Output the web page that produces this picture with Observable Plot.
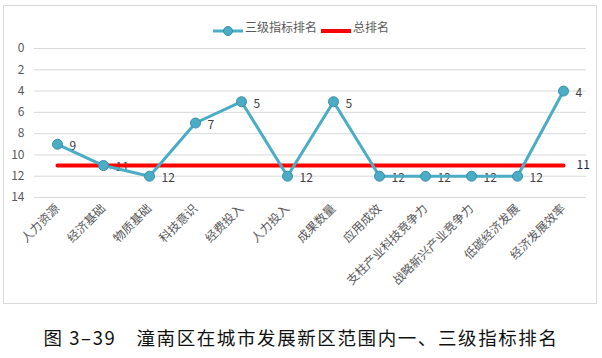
<!DOCTYPE html>
<html><head><meta charset="utf-8">
<script src="https://cdn.jsdelivr.net/npm/d3@7"></script>
<script src="https://cdn.jsdelivr.net/npm/@observablehq/plot@0.6"></script>
<style>
body{margin:0;background:#fff;font-family:"Noto Sans CJK SC","Noto Sans",sans-serif;}
#wrap{position:relative;width:602px;height:358px;}
#frame{position:absolute;left:3px;top:5px;width:594px;height:299px;border:1px solid #d9d9d9;box-sizing:border-box;}
#legend{position:absolute;top:18px;left:0;width:602px;display:flex;justify-content:center;align-items:center;font-size:12px;color:#595959;}
#legend .sw{display:inline-block;position:relative;width:30px;height:10px;margin-right:2px;}
#plot{position:absolute;left:0;top:0;}
#caption{position:absolute;top:324px;left:0;width:602px;text-align:center;font-size:18.5px;color:#111;letter-spacing:1.6px;}
</style></head>
<body>
<div id="wrap">
<div id="frame"></div>
<div id="plot"></div>
<div id="legend">
  <span class="sw"><svg width="30" height="10"><line x1="0" y1="5" x2="30" y2="5" stroke="#4BACC6" stroke-width="3"/><circle cx="15" cy="5" r="4.5" fill="#4BACC6" stroke="#3A8FAA" stroke-width="1"/></svg></span>
  <span style="margin-right:4px">三级指标排名</span>
  <span class="sw"><svg width="30" height="10"><line x1="0" y1="5" x2="30" y2="5" stroke="#FF0000" stroke-width="4"/></svg></span>
  <span>总排名</span>
</div>
<div id="caption">图 3–39　潼南区在城市发展新区范围内一、三级指标排名</div>
</div>
<script>
const categories = ["人力资源","经济基础","物质基础","科技意识","经费投入","人力投入","成果数量","应用成效","支柱产业科技竞争力","战略新兴产业竞争力","低碳经济发展","经济发展效率"];
const ranks = [9,11,12,7,5,12,5,12,12,12,12,4];
const overall = [11,11,11,11,11,11,11,11,11,11,11,11];
const yTicks = [0,2,4,6,8,10,12,14];

const rows = categories.map((c,i)=>({c, r:ranks[i], o:overall[i]}));
const last = rows[rows.length-1];

const chart = Plot.plot({
  width: 602,
  height: 310,
  marginTop: 48,
  marginBottom: 113,
  marginLeft: 34,
  marginRight: 16,
  style: {fontFamily: '"Noto Sans CJK SC","Noto Sans",sans-serif', fontSize: "12px", color: "#595959", background: "transparent"},
  x: {type: "band", domain: categories, padding: 0, label: null},
  y: {domain: [0,14], reverse: true, label: null},
  marks: [
    Plot.gridY(yTicks, {stroke: "#d9d9d9", strokeOpacity: 1, strokeWidth: 1}),
    Plot.axisY(yTicks, {tickSize: 0, tickPadding: 10, fontSize: 12, fill: "#595959", label: null}),
    Plot.axisX({tickSize: 0, tickPadding: 9, tickRotate: -45, fontSize: 12, fill: "#595959", label: null}),
    Plot.text(rows, {x: "c", y: "r", text: d=>String(d.r), dx: 12, dy: 2, textAnchor: "start", fill: "#404040", fontSize: 12}),
    Plot.line(rows, {x: "c", y: "o", stroke: "#FF0000", strokeWidth: 4}),
    Plot.text([last], {x: "c", y: "o", text: d=>String(d.o), dx: 13, textAnchor: "start", fill: "#1F2A44", fontSize: 12}),
    Plot.line(rows, {x: "c", y: "r", stroke: "#4BACC6", strokeWidth: 3}),
    Plot.dot(rows, {x: "c", y: "r", r: 5, fill: "#4BACC6", stroke: "#3A8FAA", strokeWidth: 1})
  ]
});
document.getElementById("plot").appendChild(chart);
</script>
</body></html>
